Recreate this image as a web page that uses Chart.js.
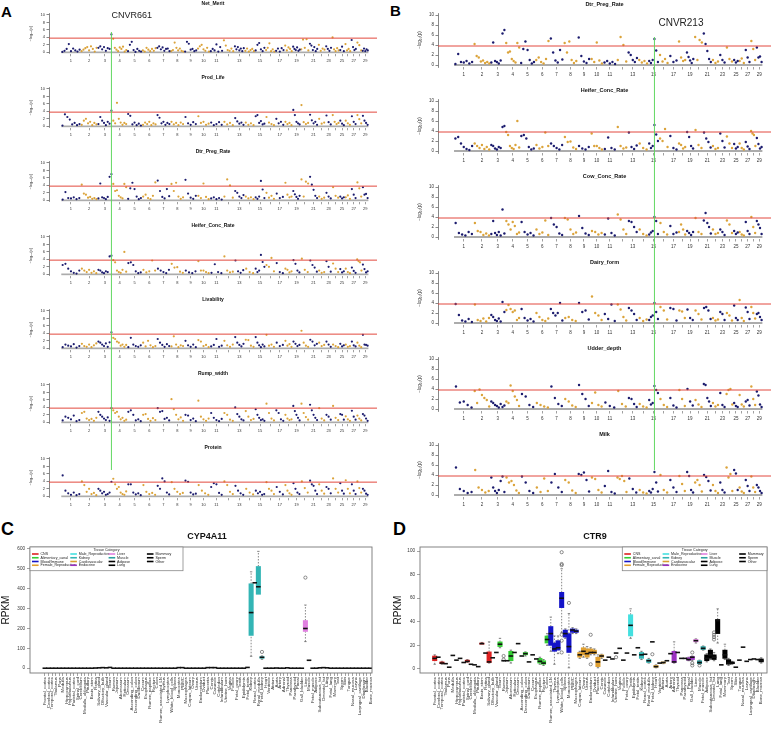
<!DOCTYPE html>
<html>
<head>
<meta charset="utf-8">
<title>CNVR association and expression</title>
<script src="https://cdn.jsdelivr.net/npm/chart.js@4.4.1/dist/chart.umd.min.js"></script>
<style>
  body { margin:0; width:778px; height:730px; position:relative; overflow:hidden; background:#fff; font-family:"Liberation Sans", Arial, sans-serif; }
  canvas { position:absolute; }
  .panel { position:absolute; font-weight:bold; line-height:1; color:#000; }
</style>
</head>
<body>
<div class="panel" style="left:1px;top:4px;font-size:15px">A</div>
<div class="panel" style="left:390px;top:3px;font-size:15px">B</div>
<div class="panel" style="left:1px;top:520px;font-size:18px">C</div>
<div class="panel" style="left:393px;top:520px;font-size:18px">D</div>
<script>
Chart.defaults.font.family = '"Liberation Sans", Arial, sans-serif';
Chart.defaults.animation = false;
const FONT = '"Liberation Sans", Arial, sans-serif';

// chromosome lengths (Mb) used for the x axis of the Manhattan plots
const chrLen = [158,137,121,120,121,119,112,113,105,104,107,91,84,84,85,81,75,66,64,72,71,61,52,62,43,51,45,46,51];
const chrShown = [1,2,3,4,5,6,7,8,9,10,11,13,15,17,19,21,23,25,27,29];
const threshold = 3.8;

// -log10(p) per chromosome
const netMerit = [
  [0.1,0.4,0.9,2.2,0.3,1.0,0.5,0.2,0.7],[0.3,0.7,1.1,1.4,0.5,1.6,0.9,0.2,1.2],[1.2,1.6,0.8,1.4,0.4,1.1,0.9,4.8],
  [3.6,1.2,0.7,0.3,1.3,0.9,1.5,0.2,0.6],[0.3,2.0,2.8,0.6,0.1,0.9,0.4,0.2],[0.5,0.2,1.2,0.7,0.3,0.9,0.4,1.1],
  [1.2,1.6,0.8,1.3,0.4,0.9,1.0,0.3],[0.3,0.6,2.6,1.2,0.5,1.0,0.4,0.2],[0.2,2.8,2.3,0.7,0.9,0.3,0.5],
  [1.0,1.6,2.0,0.8,0.4,1.2,0.2],[0.3,0.9,0.5,2.1,0.2,1.4,0.4],[3.2,1.8,0.6,0.4,1.0,0.3],[1.6,0.8,1.4,0.5,1.0,0.3,1.1],
  [0.4,1.0,0.2,0.6,0.9,0.3],[0.5,2.0,2.5,0.8,0.3,1.2],[0.6,1.2,2.4,0.3,0.8,0.2],[0.4,1.0,0.2,1.1,0.6],
  [1.8,0.5,1.3,0.9,0.3],[1.5,0.9,0.6,1.3,0.4,0.7],[0.8,3.4,1.2,3.5,0.5],[2.3,1.8,0.6,1.4,0.3,0.9],[2.0,0.4,1.0,0.7],
  [1.6,0.9,0.4,1.2],[4.0,0.8,0.3,1.1,0.5],[0.6,1.5,0.3],[2.2,0.5,0.9,0.3],[3.3,1.4,0.6,0.9],[2.6,1.9,0.5],[0.4,1.0,0.3,0.8,0.5]
];
const prodLife = [
  [0.2,3.2,2.5,1.8,0.5,0.9,0.3,0.6],[0.4,1.5,2.0,0.8,1.2,0.3,0.9,0.5],[0.6,2.5,1.5,0.9,0.3,1.2,0.7,4.2],
  [1.5,0.8,6.3,2.0,1.0,0.4,0.9,0.6],[3.3,2.8,0.5,1.0,0.3,0.7,0.2],[0.4,1.0,0.6,1.2,0.3,0.8,0.5],
  [3.0,2.3,0.8,1.2,0.4,0.9,0.6],[1.2,0.5,0.9,0.3,1.0,0.6],[2.5,0.8,0.4,1.1,0.6],[2.7,0.9,1.2,0.4,0.7],
  [1.0,0.3,0.6,1.1,0.4],[1.2,0.5,0.9,0.3],[2.2,1.3,0.7,1.0,0.4],[1.0,0.4,0.8,0.3],[2.7,3.0,0.9,1.4,0.5,0.7],
  [2.5,1.0,0.6,0.3],[2.0,0.8,1.2,0.4],[1.2,0.6,0.9,0.3],[4.4,3.0,1.2,0.8,0.5],[5.7,1.1,0.6,0.9],
  [3.1,1.6,0.8,1.2,0.4],[2.0,0.7,1.0],[2.9,1.1,0.5],[3.0,1.2,0.6,0.9],[1.5,0.7,0.3],[1.5,0.8,0.4],
  [2.7,1.2,0.6],[3.0,1.9,0.8],[2.8,1.5,0.9,0.4]
];
const dtrPregRate = [
  [0.2,2.2,0.6,0.5,0.8,0.3,0.6],[4.2,1.8,1.5,0.7,0.9,0.4,0.6,0.3],[0.5,4.5,0.8,0.6,0.3,0.9,6.3,7.0],
  [4.4,2.5,2.7,1.2,0.8,0.5,4.4,3.5],[0.4,3.2,4.7,3.0,1.0,0.3,0.6],[1.0,1.5,0.6,0.3,1.2,4.8],
  [5.3,2.5,0.9,0.5,3.0,1.1],[4.4,2.5,4.7,1.0,0.4,0.8],[5.5,1.8,0.7,0.4,1.2],[1.2,0.6,4.5,0.9,0.3],
  [0.5,0.8,0.3,0.6,0.2],[1.0,5.6,4.0,0.7],[2.5,2.0,1.0,0.6,1.4],[1.0,0.5,0.8,0.3],[0.8,0.4,1.0,5.2,2.9,0.6],
  [2.0,0.7,1.2,0.4],[1.8,0.6,0.9],[4.7,1.5,0.8,1.0],[2.5,1.6,0.9,0.4,1.2],[5.6,1.0,5.0,4.5],
  [6.3,4.2,2.8,1.2,0.6],[1.0,0.4,0.7],[2.0,1.0,0.5],[3.5,1.2,0.7],[1.0,0.5,0.8],[0.8,1.3,0.4],
  [3.0,1.5,0.6],[4.8,3.2,1.0],[3.5,1.5,1.7,0.6]
];
const heiferConcRate = [
  [2.5,2.8,1.5,0.8,0.4,0.2,1.0],[1.5,1.0,0.6,1.2,0.4,0.8,0.3],[1.2,1.0,0.5,0.3,0.8,0.6,4.8,5.0],
  [3.8,3.2,1.0,0.6,0.4,1.2,6.0,0.7],[3.0,3.2,2.5,0.8,0.3,0.5],[1.2,0.5,0.8,3.7,1.0],[1.5,1.0,0.6,0.3,1.2],
  [2.8,1.8,1.9,0.7,0.4],[1.0,0.5,0.3,0.8],[3.5,1.0,1.0,0.6,0.3],[0.4,2.7,0.6,0.3],[4.8,1.0,0.5,0.7],
  [3.7,0.8,0.4,1.1],[1.5,0.6,0.3],[1.5,0.6,1.0,5.2,3.3,2.0],[2.5,2.0,4.4,0.8],[3.0,0.6,0.3],
  [1.5,1.2,0.5,0.8],[3.8,2.8,1.0,0.5],[4.2,1.2,0.6],[3.7,2.5,1.8,0.7],[1.0,0.4,0.6],[3.5,2.0,0.7],
  [2.9,1.5,0.6],[1.4,0.5,0.8],[1.5,0.6,0.3],[1.8,0.9,0.4],[4.0,3.5,3.2,1.0],[2.6,1.4,0.5,0.8]
];
const livability = [
  [0.3,1.0,0.7,0.5,1.1,0.2,0.6],[1.2,0.6,0.4,1.0,0.3,0.8,1.3],[1.8,1.5,1.0,0.6,1.3,0.4,1.6,4.3],
  [2.8,2.5,1.8,1.5,0.7,1.0,0.4,0.9],[0.3,2.8,1.0,0.6,0.4,0.8],[1.5,0.5,2.0,0.8,0.3,0.6],[2.5,1.5,0.9,0.4,1.1,0.6],
  [0.5,3.2,1.0,0.3,0.8,0.6],[2.0,0.8,0.4,1.0,0.3],[2.2,1.8,0.6,0.9,0.3],[0.5,0.9,2.5,0.4,0.7],[2.0,0.8,0.4,1.0],
  [3.0,1.5,0.9,0.5,1.2],[2.3,2.2,0.7,0.4],[3.0,1.5,0.8,0.3,1.0,0.5],[3.6,0.7,1.0,0.4],[1.5,0.6,0.9],
  [2.0,0.7,1.1,0.4],[1.8,1.2,0.6,0.9],[4.7,1.5,0.7,0.4],[2.3,1.8,0.8,1.2],[1.5,0.6,0.9],[1.8,1.0,0.4],
  [1.0,0.6,0.3],[1.2,0.5,0.8],[1.0,0.4,0.6],[1.8,0.8,0.5],[1.5,0.7,0.3],[3.6,1.0,0.9,0.7]
];
const rumpWidth = [
  [0.5,1.5,1.2,0.8,1.8,0.3,0.6],[2.5,2.8,1.0,0.6,0.9,0.4,1.2],[2.8,2.0,1.5,1.0,0.6,1.3,0.4,3.8],
  [3.2,2.5,2.8,1.5,0.8,1.2,0.4,0.7],[2.8,3.2,2.0,0.5,0.8,0.3],[2.0,2.2,0.9,0.4,1.1,0.6],[3.8,2.8,3.0,0.9,1.2,0.5],
  [6.2,3.5,2.0,0.8,1.3,0.4],[2.0,1.8,0.6,1.0,0.3],[5.8,1.5,0.8,0.4,1.0],[2.5,1.2,0.6,0.3,0.9],[2.5,2.0,0.7,0.4],
  [4.0,2.2,1.5,0.8,0.5],[3.0,1.5,0.6,0.9],[3.5,2.0,1.2,0.6,0.8,0.4],[5.0,2.5,1.0,0.5],[3.2,2.5,0.8,0.4],
  [2.0,1.0,0.6,0.8],[4.4,3.0,2.0,1.2,0.5],[5.0,2.5,1.4,0.7],[4.7,3.2,2.0,1.2,0.6],[3.8,1.0,0.5],[2.0,1.5,0.7],
  [4.4,1.2,0.6],[2.2,2.0,0.7],[1.6,0.8,0.4],[3.1,1.5,0.7],[1.8,1.0,0.5],[2.2,1.8,1.0,0.4]
];
const protein = [
  [5.6,1.5,0.8,0.4,1.0,0.3,0.6],[4.0,3.0,1.2,2.0,0.6,0.9,0.3],[2.0,1.5,0.8,1.2,0.4,0.6,1.0,3.9],
  [4.7,3.2,2.0,2.5,1.0,0.6,0.4,1.3],[3.2,3.2,1.0,0.5,0.8,0.3],[3.0,1.2,0.6,0.9,0.4],[2.8,2.0,4.8,4.0,1.0,0.5],
  [3.8,2.0,1.2,0.6,0.9],[4.2,3.9,1.0,0.5,0.7],[3.0,1.5,0.8,0.4],[2.5,3.5,3.2,0.9,0.4],[4.0,3.0,1.2,0.6],
  [2.8,1.5,0.8,0.4],[2.0,1.0,0.5],[1.5,0.8,1.2,0.4,0.6],[3.8,2.0,1.5,0.6],[2.5,1.2,0.5],[3.0,1.5,0.8,0.4],
  [3.5,2.0,1.0,0.6],[4.0,2.2,1.0],[4.2,3.2,2.8,1.5,0.6],[3.2,1.5,0.7],[2.5,2.0,0.8],[4.8,2.0,1.0],
  [3.5,1.5,0.7],[4.3,2.0,0.8],[3.2,1.5,0.6],[4.0,2.2,1.0],[2.0,1.5,0.7,0.4]
];
const cowConcRate = [
  [2.8,0.8,0.5,0.3,1.0,0.6],[2.8,1.2,1.0,0.4,0.7,0.3],[0.6,3.2,0.8,0.4,1.0,0.3,5.5,0.7],
  [3.2,2.5,1.5,3.0,2.2,0.6,0.9],[3.0,1.0,0.5,0.8,0.3],[1.5,0.6,0.9,3.3,0.4],[3.8,2.5,2.0,0.7,0.4],
  [3.8,3.5,1.5,0.6,0.9],[4.2,1.8,0.7,0.4],[1.2,1.0,0.5,0.8],[0.5,3.7,0.8,0.3],[4.5,3.5,1.5,0.6],
  [3.2,3.0,2.0,1.0],[1.5,0.6,0.3],[0.5,0.9,1.2,4.0,3.2,0.6],[2.8,1.0,0.5],[2.2,0.6,0.9],[1.0,2.5,1.5,0.5],
  [1.2,0.8,0.4,1.0],[3.8,1.0,0.6],[3.3,4.8,2.8,2.0,0.7],[1.5,0.6,0.8],[1.5,1.0,0.4],[3.3,2.5,0.8],
  [1.2,0.6,0.9],[1.0,0.5,0.3],[3.0,1.2,0.6],[4.0,2.0,0.8],[3.2,2.5,1.8,0.6]
];
const dairyForm = [
  [3.8,1.6,0.5,0.3,0.8,0.2],[3.7,0.6,0.4,0.9,0.3,1.0],[1.6,1.2,0.6,0.4,0.9,0.3,4.2,2.2],
  [2.6,3.6,2.8,2.2,2.5,0.6,1.0],[2.8,1.0,0.5,0.8,0.3],[2.0,1.2,0.6,0.4,0.9],[2.8,2.0,1.5,2.0,4.0,0.5],
  [1.0,1.2,0.6,0.4],[4.0,2.2,2.5,0.7],[5.3,2.0,1.5,0.6],[1.8,0.8,3.7,0.4],[3.7,2.7,1.2,0.5],
  [3.0,2.5,1.8,0.6],[1.0,0.4,0.7],[0.6,1.2,1.5,4.0,2.2,0.8],[3.2,2.5,0.7],[3.0,2.8,0.5],[2.5,2.3,1.0],
  [2.7,1.0,0.6],[2.5,1.8,0.7],[3.0,3.2,2.5,0.8],[1.0,0.5,0.7],[2.2,1.8,0.6],[2.0,1.5,0.5],[3.5,1.0,0.6],
  [4.6,1.0,0.4],[3.1,2.2,0.8],[3.2,2.0,0.9],[1.8,2.0,1.2,0.6]
];
const udderDepth = [
  [4.5,1.3,1.5,0.8,0.3],[3.6,1.2,3.9,2.8,2.2,1.8,0.5],[1.5,1.2,0.8,0.6,0.3,1.0,0.4,0.7],
  [1.5,1.2,4.7,3.6,2.5,1.8,0.6],[3.0,2.5,0.8,0.4],[1.2,0.8,0.5,0.3],[4.5,2.2,1.0,0.6],[2.0,1.5,0.7,0.4],
  [4.8,3.0,2.0,0.6],[1.2,3.3,0.8,0.5],[1.3,0.6,0.3],[3.6,1.0,0.5],[2.2,2.0,1.0,0.4],[1.0,0.5,0.3],
  [1.8,0.9,1.2,4.6,3.8,3.2],[2.0,0.8,0.4],[2.2,0.7,0.3],[3.8,2.0,0.6],[4.0,1.5,0.7],[1.8,0.9,0.4],
  [5.0,4.8,2.2,1.5,0.6],[1.2,0.5,0.8],[3.2,0.8,0.4],[3.0,3.8,4.0,0.9],[1.2,0.6,0.4],[2.8,0.9,0.5],
  [1.5,1.8,0.7],[4.5,2.0,0.8],[3.5,2.7,0.9,0.4]
];
const milk = [
  [5.5,1.2,0.8,0.4,0.6],[5.0,1.5,1.0,0.5,0.8],[3.5,1.5,0.8,0.4,1.0,2.8,3.7,0.6],[3.5,2.5,2.8,2.0,0.9,0.4],
  [3.7,2.5,0.8,0.4],[1.5,0.6,3.3,0.8],[2.5,4.2,1.5,0.6],[3.0,2.5,0.9,0.4],[4.2,4.0,4.5,3.0,0.7],
  [3.5,3.2,1.0,0.5],[1.8,4.8,0.6,0.3],[3.5,3.2,3.8,2.8,0.6],[3.3,1.2,0.5],[1.0,0.5,0.3],
  [0.8,0.5,1.2,4.6,2.5,0.7],[4.0,1.0,0.5],[3.0,1.5,0.6],[3.8,2.2,0.8],[4.6,3.8,1.0,0.5],[2.5,3.0,2.0,0.7],
  [4.0,3.6,2.8,0.9],[2.0,0.8,0.4],[2.5,1.0,0.5],[5.5,3.5,4.2,0.8],[5.0,4.3,1.0],[1.5,0.7,0.4],
  [3.0,1.8,0.8],[3.7,1.5,0.6],[2.0,1.5,0.8,0.4]
];

const panelA = [['Net_Merit', netMerit], ['Prod_Life', prodLife], ['Dtr_Preg_Rate', dtrPregRate],
  ['Heifer_Conc_Rate', heiferConcRate], ['Livability', livability], ['Rump_width', rumpWidth], ['Protein', protein]];
const panelB = [['Dtr_Preg_Rate', dtrPregRate], ['Heifer_Conc_Rate', heiferConcRate], ['Cow_Conc_Rate', cowConcRate],
  ['Dairy_form', dairyForm], ['Udder_depth', udderDepth], ['Milk', milk]];

// expression atlas
const categoryNames = ['CNS','Alimentary_canal','Blood/Immune','Female_Reproductive','Male_Reproductive','Kidney',
  'Cardiovascular','Endocrine','Liver','Muscle','Adipose','Lung','Mammary','Sperm','Other'];
const categoryColors = ['#dd2020','#33cc33','#1414c8','#e0a030','#44e0e0','#33b5b5','#d8a030','#9a30c0',
  '#e080e0','#2aa0a0','#000','#000','#000','#000','#000'];
const categorySizes = [18,14,8,14,3,4,5,6,1,2,3,2,2,1,8];
const tissueNames = ['Frontal_cortex','Cerebral_cortex','Temporal_cortex','Thalamus','Pons','Medulla','Hippocampus',
  'Hypothalamus','Parietal_cortex','Spinal_cord','Cerebellum','Medulla_oblongata','Pituitary','Brain_stem','Retina',
  'Salivary_gland','Olfactory_bulb','Vascular_gland',
  'Ileum','Rumen','Jejunum','Abomasum','Reticulum','Omasum','Ascending_colon','Descending_colon','Duodenum','Cecum',
  'Esophagus','Rumen_papillae','Rectum','Colon',
  'Rumen_associated_LN','Thymus','Lymphocytes','White_blood_cells','Spleen','Monocytes','PBMC','Macrophages',
  'Corpus_luteum','Ovary','Uterus','Endometrium','Oviduct','Placenta','Cervix','Caruncle','Cotyledon','Infundibulum',
  'Uterine_horn','Vagina','Follicle','Fetal_ovary',
  'Testis','Epididymis','Fetal_testis',
  'Kidney','Renal_cortex','Renal_medulla','Fetal_kidney',
  'Heart','Ventricle','Atrium','Aorta','Artery',
  'Adrenal','Thyroid','Pancreas','Parathyroid','Pineal','Gall_bladder',
  'Liver','Muscle','Fetal_muscle','Adipose','Subcutaneous_fat','Omental_fat','Lung','Fetal_lung','Mammary','Teat','Sperm',
  'Skin','Tongue','Nasal_mucosa','Larynx','Laryngeal_cartilage','Diaphragm','Bladder','Bone_marrow'];
// [low whisker, q1, median, q3, high whisker]; one value = single sample
const cyp4a11 = [[0],[0],[0],[0],[0],[0],[0],[0],[0],[0],[0],[0],[0],[0],[1],[2],[3],[2],
  [4],[0],[0],[0],[0],[0],[0],[0],[0],[0],[0],[0],[0],[0],
  [0],[0],[0],[0],[0],[3],[3],[0],
  [0],[0],[0],[0],[0],[3],[3],[3],[0],[0],[0],[0],[0],[0],
  [0],[0],[4],
  [60,165,280,425,485],[430],[372,372,410,512,588],[45,50,55,58,62],
  [0],[0],[0],[1],[0],
  [0],[2],[0],[0],[0],[0],
  [134,185,200,240,318],[40],[0],[0],[2],[3],[2],[0],[0],[0],[0],
  [0],[0],[0],[0],[0],[0],[0],[0]];
const cyp4a11Out = [[60,82],[72,456]];
const ctr9 = [[4,7,9,11,12],[10],[4,4.5,5,6,6.5],[4.5],[1.5],[11.5],[7.5],[9],[5.5],[5.5,6,6.5,7.5,8],[4],[3.5],[2],
  [21,21,21.5,22,22.5],[13.5],[5,5.5,6,14.5,23],[9.5],[14],
  [18,19,21,23,26],[7],[7],[5,7,11,15,16],[14],[21.5],[11],[11,12,13,14,14.5],[6],[12],[8.5],[4,5,6.5,9,10],
  [3,4,5,7,8],[20,22,25,28,30],
  [15,20,30,36,44],[4,15,17,22,28],[13,16,18,24,28],[31,52,60,65,85],[26,27,30,33,34],[1,14,19,30,47],
  [30,31,33,34,35],[30,31,32,33,34],
  [9,10,12,14,15],[10,12,15,18,21],[9,10,13,17,19],[12,13,14,17,18],[12,13,14,16,17],[1,2,6,10,12],
  [9,10,11,12,12.5],[7.5],[10],[8.5],[13.5],[17.5],[7.5],[13.5],
  [26,28,37,46,51],[12],[18],
  [8,9,12,14,15],[12.5],[5,5.5,7,8,9],[23],
  [1,1.5,2,3,3.5],[5],[4.5,5,5.5,6,6],[7],[13],
  [5,5.5,6,15,23],[14],[9],[9],[7,7.5,8,9.5,10],[7,8,10,10.5,11],
  [22,23,24,25,25.5],[4,4.5,5.5,7,7.5],[16,16.5,17.5,19,19.5],
  [6,7,9,12,13],[8,9,12,16,17],[7,8,10,12,14],[22,30,41,42,51],[3.5],[8,9,12,16,21],[3,4,5,8,9],
  [4,4.5,5,6,6.5],[1.5],[7.5],[18.5],[6.5],[8],[8.5],[8],[5,6,7,8.5,9.5]];
const ctr9Out = [[19,11],[19,8],[35,99],[35,89],[35,88],[35,29],[35,24],[35,14],[37,56],[43,29],[43,4],
  [50,10],[60,12.5],[71,14],[71,5],[71,3],[73,3],[77,25],[77,27],[77,29],[77,31]];

// ---------- Manhattan plots ----------
const chrStart = [];
let genome = 0;
chrLen.forEach(l => { chrStart.push(genome); genome += l; });
function pointX(chr, n, i) { return chrStart[chr - 1] + (i + 0.5) / n * chrLen[chr - 1]; }
const cnvr661 = pointX(3, 8, 7);
const cnvr213 = pointX(15, 6, 3);

function makeCanvas(left, top, w, h) {
  const c = document.createElement('canvas');
  c.width = w; c.height = h;
  c.style.left = left + 'px'; c.style.top = top + 'px';
  c.style.width = w + 'px'; c.style.height = h + 'px';
  document.body.appendChild(c);
  return c;
}

function manhattan(canvas, title, vals, g) {
  const navy = [], gold = [];
  vals.forEach((v, c) => v.forEach((y, i) => (c % 2 ? gold : navy).push({x: pointX(c + 1, v.length, i), y})));
  const overlay = {
    id: 'overlay',
    afterDatasetsDraw(chart) {
      const {ctx, chartArea: a, scales: {x}} = chart;
      ctx.save();
      ctx.fillStyle = '#111';
      ctx.textAlign = 'center'; ctx.textBaseline = 'middle';
      ctx.font = 'bold ' + g.titleSize + 'px ' + FONT;
      ctx.fillText(title, (a.left + a.right) / 2, g.titleY);
      ctx.save();
      ctx.translate(g.ylabX, (a.top + a.bottom) / 2);
      ctx.rotate(-Math.PI / 2);
      ctx.font = g.tickSize + 'px ' + FONT;
      ctx.fillStyle = '#333';
      ctx.fillText('\u2212log\u2081\u2080(p)', 0, 0);
      ctx.restore();
      const gx = x.getPixelForValue(g.green);
      const y0 = Math.max(0, g.g0 - g.top), y1 = Math.min(chart.height, g.g1 - g.top);
      if (y1 > y0) {
        ctx.strokeStyle = '#62d862'; ctx.lineWidth = 1;
        ctx.beginPath(); ctx.moveTo(gx, y0); ctx.lineTo(gx, y1); ctx.stroke();
      }
      if (g.tag) {
        ctx.fillStyle = '#222'; ctx.textAlign = 'left';
        ctx.font = g.tagSize + 'px ' + FONT;
        ctx.fillText(g.tag, gx + g.tagDx, g.tagY);
      }
      ctx.restore();
    }
  };
  return new Chart(canvas, {
    type: 'scatter',
    data: {datasets: [
      {type: 'line', data: [{x: g.xmin, y: threshold}, {x: g.xmax, y: threshold}], borderColor: '#e2483e',
        borderWidth: 1, pointRadius: 0, order: 0},
      {data: navy, backgroundColor: '#1c1c6e', borderWidth: 0, pointRadius: g.r, order: 1},
      {data: gold, backgroundColor: '#dba33a', borderWidth: 0, pointRadius: g.r, order: 2},
      {type: 'line', data: [{x: 0, y: 0}, {x: genome, y: 0}], borderColor: '#acacac', borderWidth: 1.8,
        pointRadius: 0, order: 3}
    ]},
    options: {
      responsive: false, devicePixelRatio: 1, animation: false,
      layout: {padding: {left: 0, right: g.padR, top: g.padT, bottom: 0}},
      plugins: {legend: {display: false}, tooltip: {enabled: false}},
      scales: {
        x: {type: 'linear', min: g.xmin, max: g.xmax,
          afterBuildTicks: ax => { ax.ticks = chrLen.map((l, i) => ({value: chrStart[i] + l / 2})); },
          afterFit: s => { s.height = g.xh; },
          ticks: {callback: (v, i) => chrShown.includes(i + 1) ? String(i + 1) : '', autoSkip: false,
            maxRotation: 0, minRotation: 0, font: {size: g.tickSize}, color: '#333', padding: g.xPad},
          grid: {display: true, drawOnChartArea: false, tickLength: 2.5, color: '#777', lineWidth: 0.7},
          border: {display: false}},
        y: {min: -0.4, max: 10.4,
          afterBuildTicks: ax => { ax.ticks = [0, 2, 4, 6, 8, 10].map(v => ({value: v})); },
          afterFit: s => { s.width = g.yw; },
          ticks: {font: {size: g.tickSize}, color: '#333', padding: 1.5},
          grid: {display: true, drawOnChartArea: false, tickLength: 2.5, color: '#555', lineWidth: 0.7},
          border: {display: true, color: '#555', width: 0.7}}
      }
    },
    plugins: [overlay]
  });
}

panelA.forEach(([title, vals], k) => {
  const top = k * 74;
  manhattan(makeCanvas(0, top, 388, 74), title, vals, {
    top, padT: 13.5, xh: 20.2, yw: 49, padR: 11, r: 1.1, titleSize: 5, titleY: 3.5, tickSize: 4, xPad: 2.5,
    xmin: -100, xmax: genome + 70,
    ylabX: 31, green: cnvr661, g0: 32, g1: 470, tag: k === 0 ? 'CNVR661' : null, tagSize: 9, tagDx: 0, tagY: 16
  });
});
panelB.forEach(([title, vals], k) => {
  const top = k * 86;
  manhattan(makeCanvas(388, top, 390, 86), title, vals, {
    top, padT: 13, xh: 19, yw: 50, padR: 7, r: 1.2, titleSize: 5.5, titleY: 4, tickSize: 4.5, xPad: 2.5,
    xmin: -130, xmax: genome + 70,
    ylabX: 32, green: cnvr213, g0: 37, g1: 470, tag: k === 0 ? 'CNVR213' : null, tagSize: 10, tagDx: 4, tagY: 23
  });
});

// ---------- expression box plots ----------
const tissueCat = [];
categorySizes.forEach((n, c) => { for (let i = 0; i < n; i++) tissueCat.push(c); });

function drawLegend(ctx, L, T, W, H) {
  ctx.save();
  ctx.fillStyle = '#fff'; ctx.fillRect(L, T, W, H);
  ctx.strokeStyle = '#888'; ctx.lineWidth = 0.8; ctx.strokeRect(L, T, W, H);
  ctx.fillStyle = '#222'; ctx.textBaseline = 'middle';
  ctx.font = '3.6px ' + FONT; ctx.textAlign = 'center';
  ctx.fillText('Tissue Category', L + W / 2, T + 3);
  ctx.textAlign = 'left';
  categoryNames.forEach((nm, k) => {
    const x = L + 2 + Math.floor(k / 4) * 38.3, y = T + 7 + (k % 4) * 3.75;
    ctx.strokeStyle = categoryColors[k]; ctx.lineWidth = 1.6;
    ctx.beginPath(); ctx.moveTo(x, y); ctx.lineTo(x + 6.6, y); ctx.stroke();
    ctx.fillText(nm, x + 8.5, y);
  });
  ctx.restore();
}

function boxPlot(canvas, title, stats, outliers, g) {
  const boxes = [], boxCol = [], meds = [], whisk = [], caps = [];
  stats.forEach((s, i) => {
    const x = i + 1;
    const [lo, q1, md, q3, hi] = s.length === 1 ? [s[0], s[0], s[0], s[0], s[0]] : s;
    if (q3 > q1) { boxes.push({x, y: [q1, q3]}); boxCol.push(categoryColors[tissueCat[i]]); }
    meds.push({x, y: md});
    if (hi > q3) { whisk.push({x, y: q3}, {x, y: hi}, {x, y: null}); caps.push({x, y: hi}); }
    if (lo < q1) { whisk.push({x, y: lo}, {x, y: q1}, {x, y: null}); caps.push({x, y: lo}); }
  });
  const outs = outliers.map(([i, v]) => ({x: i + 1, y: v}));
  const deco = {
    id: 'deco',
    afterDraw(chart) {
      const {ctx, chartArea: a} = chart;
      ctx.save();
      ctx.strokeStyle = '#777'; ctx.lineWidth = 0.9;
      ctx.strokeRect(a.left, a.top, a.right - a.left, a.bottom - a.top);
      ctx.fillStyle = '#111'; ctx.textAlign = 'center'; ctx.textBaseline = 'middle';
      ctx.font = 'bold 9px ' + FONT;
      ctx.fillText(title, g.titleX, 17);
      ctx.save();
      ctx.translate(g.ylabX, (a.top + a.bottom) / 2);
      ctx.rotate(-Math.PI / 2);
      ctx.font = '10px ' + FONT;
      ctx.fillText('RPKM', 0, 0);
      ctx.restore();
      ctx.restore();
      drawLegend(ctx, g.legRight ? a.right - g.legW : a.left, a.top, g.legW, 23.7);
    }
  };
  return new Chart(canvas, {
    type: 'bar',
    data: {datasets: [
      {type: 'scatter', data: meds, pointStyle: 'line', pointRadius: 2.3, borderColor: '#111', borderWidth: 1.6, order: 0},
      {type: 'scatter', data: outs, pointStyle: 'circle', pointRadius: 1.6, borderColor: '#444', borderWidth: 0.6,
        backgroundColor: 'rgba(0,0,0,0)', order: 1},
      {data: boxes, backgroundColor: boxCol, borderWidth: 0, barThickness: 4.4, order: 2},
      {type: 'scatter', data: caps, pointStyle: 'line', pointRadius: 1.2, borderColor: '#555', borderWidth: 0.7, order: 3},
      {type: 'line', data: whisk, borderColor: '#555', borderWidth: 0.7, borderDash: [1.5, 1.5], pointRadius: 0,
        spanGaps: false, order: 4}
    ]},
    options: {
      responsive: false, devicePixelRatio: 1, animation: false,
      layout: {padding: {left: 0, right: g.padR, top: 27, bottom: 0}},
      plugins: {legend: {display: false}, tooltip: {enabled: false}},
      scales: {
        x: {type: 'linear', min: g.xmin, max: g.xmax, offset: false,
          afterBuildTicks: ax => { ax.ticks = tissueNames.map((t, i) => ({value: i + 1})); },
          afterFit: s => { s.height = 57; },
          ticks: {callback: (v, i) => tissueNames[i], autoSkip: false, minRotation: 90, maxRotation: 90,
            font: {size: 4.4}, color: '#333', padding: 1},
          grid: {display: true, drawOnChartArea: false, offset: false, tickLength: 3, color: '#666', lineWidth: 0.6},
          border: {display: false}},
        y: {min: g.ymin, max: g.ymax,
          afterBuildTicks: ax => { ax.ticks = g.yticks.map(v => ({value: v})); },
          afterFit: s => { s.width = g.yw; },
          ticks: {font: {size: 4.6}, color: '#333', padding: 2},
          grid: {display: true, drawOnChartArea: false, tickLength: 3, color: '#666', lineWidth: 0.6},
          border: {display: false}}
      }
    },
    plugins: [deco]
  });
}

boxPlot(makeCanvas(0, 520, 388, 210), 'CYP4A11', cyp4a11, cyp4a11Out, {
  padR: 16, yw: 30, xmin: -3.1, xmax: 91.4, ymin: -24, ymax: 610, yticks: [0, 100, 200, 300, 400, 500, 600],
  titleX: 207, ylabX: 6, legW: 153, legRight: false
});
boxPlot(makeCanvas(388, 520, 390, 210), 'CTR9', ctr9, ctr9Out, {
  padR: 11, yw: 32, xmin: -3.05, xmax: 92.6, ymin: -3.4, ymax: 103.4, yticks: [0, 20, 40, 60, 80, 100],
  titleX: 207, ylabX: 10, legW: 144.7, legRight: true
});
</script>
</body>
</html>
